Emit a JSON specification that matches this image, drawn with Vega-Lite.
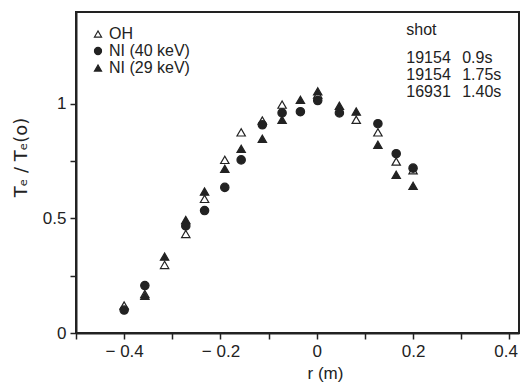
{
  "$schema": "https://vega.github.io/schema/vega-lite/v6.json",
  "width": 443,
  "height": 321,
  "autosize": {"type": "none"},
  "padding": {"left": 76, "top": 12, "right": 1, "bottom": 56},
  "background": "white",
  "config": {
    "font": "Liberation Sans",
    "view": {"stroke": "#222", "strokeWidth": 2},
    "axis": {
      "domainColor": "#222", "domainWidth": 2, "tickColor": "#222", "tickWidth": 1.5, "tickSize": 6,
      "grid": false, "labelFontSize": 17, "labelColor": "#222", "labelFont": "Liberation Sans",
      "titleFontSize": 17, "titleColor": "#222", "titleFontWeight": "normal", "titleFont": "Liberation Sans"
    },
    "legend": {"labelFontSize": 16, "labelColor": "#222", "labelFont": "Liberation Sans"}
  },
  "layer": [
    {
      "data": {
        "values": [
          {"series": "OH", "r": -0.4, "t": 0.12},
          {"series": "OH", "r": -0.357, "t": 0.17},
          {"series": "OH", "r": -0.316, "t": 0.297},
          {"series": "OH", "r": -0.272, "t": 0.432},
          {"series": "OH", "r": -0.233, "t": 0.585},
          {"series": "OH", "r": -0.191, "t": 0.755},
          {"series": "OH", "r": -0.157, "t": 0.875},
          {"series": "OH", "r": -0.113, "t": 0.927},
          {"series": "OH", "r": -0.072, "t": 0.996},
          {"series": "OH", "r": 0.002, "t": 1.04},
          {"series": "OH", "r": 0.082, "t": 0.93},
          {"series": "OH", "r": 0.127, "t": 0.875},
          {"series": "OH", "r": 0.165, "t": 0.748},
          {"series": "OH", "r": 0.2, "t": 0.71},
          {"series": "NI (29 keV)", "r": -0.357, "t": 0.162},
          {"series": "NI (29 keV)", "r": -0.316, "t": 0.333},
          {"series": "NI (29 keV)", "r": -0.272, "t": 0.493},
          {"series": "NI (29 keV)", "r": -0.233, "t": 0.617},
          {"series": "NI (29 keV)", "r": -0.191, "t": 0.716},
          {"series": "NI (29 keV)", "r": -0.157, "t": 0.803},
          {"series": "NI (29 keV)", "r": -0.113, "t": 0.847},
          {"series": "NI (29 keV)", "r": -0.072, "t": 0.93},
          {"series": "NI (29 keV)", "r": -0.034, "t": 1.017},
          {"series": "NI (29 keV)", "r": 0.002, "t": 1.054},
          {"series": "NI (29 keV)", "r": 0.047, "t": 0.991},
          {"series": "NI (29 keV)", "r": 0.082, "t": 0.966},
          {"series": "NI (29 keV)", "r": 0.127, "t": 0.821},
          {"series": "NI (29 keV)", "r": 0.165, "t": 0.69},
          {"series": "NI (29 keV)", "r": 0.2, "t": 0.642},
          {"series": "NI (40 keV)", "r": -0.4, "t": 0.1},
          {"series": "NI (40 keV)", "r": -0.357, "t": 0.207},
          {"series": "NI (40 keV)", "r": -0.272, "t": 0.467},
          {"series": "NI (40 keV)", "r": -0.233, "t": 0.534},
          {"series": "NI (40 keV)", "r": -0.191, "t": 0.635},
          {"series": "NI (40 keV)", "r": -0.157, "t": 0.755},
          {"series": "NI (40 keV)", "r": -0.113, "t": 0.908},
          {"series": "NI (40 keV)", "r": -0.072, "t": 0.96},
          {"series": "NI (40 keV)", "r": -0.034, "t": 0.965},
          {"series": "NI (40 keV)", "r": 0.002, "t": 1.014},
          {"series": "NI (40 keV)", "r": 0.047, "t": 0.96},
          {"series": "NI (40 keV)", "r": 0.127, "t": 0.913},
          {"series": "NI (40 keV)", "r": 0.165, "t": 0.782},
          {"series": "NI (40 keV)", "r": 0.2, "t": 0.719}
        ]
      },
      "mark": {"type": "point", "filled": true, "strokeWidth": 1.2, "size": 70, "opacity": 1},
      "encoding": {
        "x": {
          "field": "r", "type": "quantitative",
          "scale": {"domain": [-0.5, 0.42], "nice": false, "zero": false},
          "axis": {
            "values": [-0.5, -0.4, -0.3, -0.2, -0.1, 0, 0.1, 0.2, 0.3, 0.4],
            "labelExpr": "round(datum.value*10) % 2 == 0 ? (datum.value < -0.01 ? '− ' + format(-datum.value, '.1f') : (abs(datum.value) < 0.01 ? '0' : format(datum.value, '.1f'))) : ''",
            "labelAlign": {"condition": {"test": "datum.value > 0.35", "value": "right"}, "value": "center"},
            "labelOffset": {"condition": {"test": "datum.value > 0.35", "value": 8}, "value": 0},
            "title": "r (m)", "labelPadding": 4, "titlePadding": 6, "titleX": 249, "labelFlush": false
          }
        },
        "y": {
          "field": "t", "type": "quantitative",
          "scale": {"domain": [0, 1.4], "nice": false},
          "axis": {
            "values": [0, 0.25, 0.5, 0.75, 1],
            "labelExpr": "datum.value == 0 ? '0' : (datum.value == 0.5 ? '0.5' : (datum.value == 1 ? '1' : ''))",
            "title": "Tₑ / Tₑ(o)", "titleFont": "DejaVu Sans", "titleFontSize": 18, "labelPadding": 4, "titlePadding": 12, "titleY": 145
          }
        },
        "shape": {
          "field": "series", "type": "nominal",
          "scale": {"domain": ["OH", "NI (40 keV)", "NI (29 keV)"], "range": ["triangle-up", "circle", "triangle-up"]},
          "legend": {"title": null, "orient": "top-left", "offset": 14, "padding": 0, "rowPadding": 1, "labelOffset": 3, "symbolSize": 50, "symbolStrokeWidth": 1.2}
        },
        "fill": {
          "field": "series", "type": "nominal",
          "scale": {"domain": ["OH", "NI (40 keV)", "NI (29 keV)"], "range": ["white", "#222", "#222"]},
          "legend": {"title": null, "orient": "top-left", "offset": 14, "padding": 0, "rowPadding": 1, "labelOffset": 3, "symbolSize": 50, "symbolStrokeWidth": 1.2}
        },
        "stroke": {
          "field": "series", "type": "nominal",
          "scale": {"domain": ["OH", "NI (40 keV)", "NI (29 keV)"], "range": ["#222", "#222", "#222"]},
          "legend": {"title": null, "orient": "top-left", "offset": 14, "padding": 0, "rowPadding": 1, "labelOffset": 3, "symbolSize": 50, "symbolStrokeWidth": 1.2}
        }
      }
    },
    {
      "data": {"values": [{}]},
      "mark": {"type": "text", "text": "shot", "align": "left", "baseline": "alphabetic", "fontSize": 16, "fontWeight": "normal", "color": "#222", "font": "Liberation Sans"},
      "encoding": {"x": {"datum": 0.186}, "y": {"datum": 1.301}}
    },
    {
      "data": {"values": [{}]},
      "mark": {"type": "text", "text": ["19154", "19154", "16931"], "lineHeight": 17, "align": "left", "baseline": "alphabetic", "fontSize": 16, "fontWeight": "normal", "color": "#222", "font": "Liberation Sans"},
      "encoding": {"x": {"datum": 0.186}, "y": {"datum": 1.179}}
    },
    {
      "data": {"values": [{}]},
      "mark": {"type": "text", "text": ["0.9s", "1.75s", "1.40s"], "lineHeight": 17, "align": "left", "baseline": "alphabetic", "fontSize": 16, "fontWeight": "normal", "color": "#222", "font": "Liberation Sans"},
      "encoding": {"x": {"datum": 0.302}, "y": {"datum": 1.179}}
    }
  ]
}
